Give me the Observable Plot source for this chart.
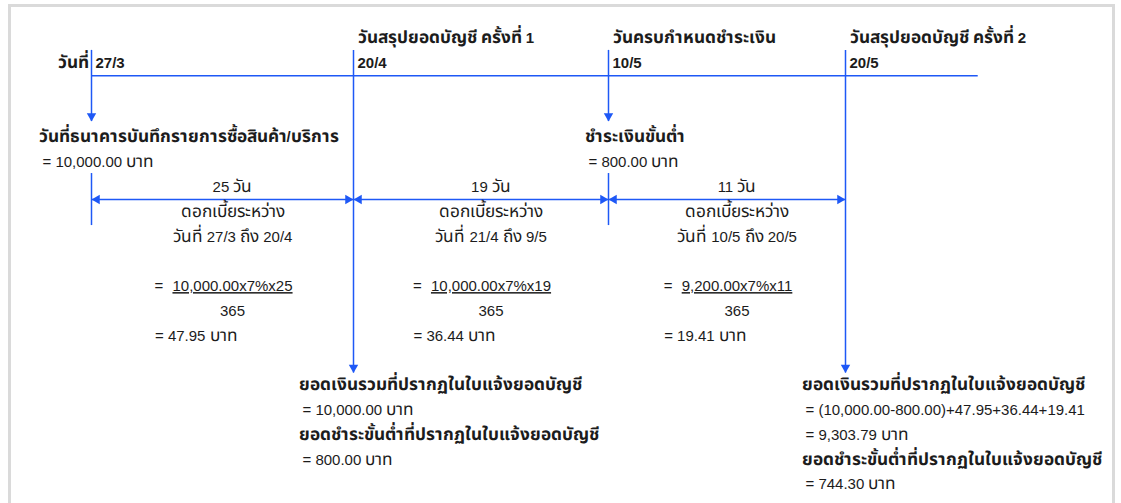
<!DOCTYPE html>
<html><head><meta charset="utf-8">
<script src="https://cdn.jsdelivr.net/npm/d3@7"></script>
<script src="https://cdn.jsdelivr.net/npm/@observablehq/plot@0.6"></script>
<style>
@font-face { font-family: "ThaiAdj"; font-weight: 400; size-adjust: 115%;
  src: local("Noto Sans Thai"), local("NotoSansThai-Regular"), local("Noto Sans Thai Regular");
  unicode-range: U+0E00-0E7F; }
@font-face { font-family: "ThaiAdj"; font-weight: 700; size-adjust: 115%;
  src: local("Noto Sans Thai Bold"), local("NotoSansThai-Bold"), local("Noto Sans Thai");
  unicode-range: U+0E00-0E7F; }
html,body{margin:0;padding:0;background:#fff;}
#wrap{position:relative;width:1121px;height:503px;overflow:hidden;}
#frame{position:absolute;left:8px;top:4px;width:1107px;height:600px;border:3px solid #dadada;box-sizing:border-box;}
#chart{position:absolute;left:0;top:0;}
</style></head><body><div id="wrap"><div id="frame"></div><div id="chart"></div></div>
<script>
// ---- data ----
const dates = ["27/3", "20/4", "10/5", "20/5"];
const dateTitles = ["", "วันสรุปยอดบัญชี ครั้งที่ 1", "วันครบกำหนดชำระเงิน", "วันสรุปยอดบัญชี ครั้งที่ 2"];
const dateKinds = ["purchase", "statement", "due", "statement"];
const dateLabel = "วันที่";
const eventLabels = ["วันที่ธนาคารบันทึกรายการซื้อสินค้า/บริการ", "", "ชำระเงินขั้นต่ำ", ""];
const eventAmounts = ["10,000.00", "", "800.00", ""];
const periodDays = [25, 19, 11];
const periodFrom = ["27/3", "21/4", "10/5"];
const periodTo = ["20/4", "9/5", "20/5"];
const periodPrincipal = ["10,000.00", "10,000.00", "9,200.00"];
const annualRate = "7%";
const daysPerYear = 365;
const periodInterest = ["47.95", "36.44", "19.41"];
const interestLabel = "ดอกเบี้ยระหว่าง";
const totalLabel = "ยอดเงินรวมที่ปรากฏในใบแจ้งยอดบัญชี";
const minimumLabel = "ยอดชำระขั้นต่ำที่ปรากฏในใบแจ้งยอดบัญชี";
const statementFormula = ["", "(10,000.00-800.00)+47.95+36.44+19.41"];
const statementTotals = ["10,000.00", "9,303.79"];
const statementMinimums = ["800.00", "744.30"];
const currency = "บาท";

// ---- layout / style ----
const BLUE = "#1e58f6";
const INK = "#1c1c1c";
const FONT_SIZE = 15;
const FONT = "'Liberation Sans', 'ThaiAdj', 'Noto Sans Thai', sans-serif";
const ROW = {title: 0, date: 1, line: 1.5, event: 4, amount: 5, days: 6, span: 6.5, desc: 7, range: 8,
             formula: 10, denom: 11, result: 12, stmt: 14, top: 0.48, shortTip: 3.35, longTip: 13.5,
             tickTop: 5.45, tickBottom: 7.55};
const EVENT_DX = {purchase: [-53, -49], due: [-24, -20]};
const STMT_DX = [[-55, -51], [-44, -40]];
const CENTER_DX = 10;
const HEAD_R = 3.5, HEAD_OFF = 5.5;

const idx = d3.range(dates.length);
const events = idx.map(i => ({i, date: dates[i], title: dateTitles[i], kind: dateKinds[i],
  label: eventLabels[i], amount: eventAmounts[i]}));
const tipRow = e => e.kind === "statement" ? ROW.longTip : ROW.shortTip;

// measure formula widths so that "=" sits just left of each centred formula
const ctx = document.createElement("canvas").getContext("2d");
ctx.font = `${FONT_SIZE}px 'Liberation Sans'`;
const periods = d3.range(periodDays.length).map(k => {
  const formula = `${periodPrincipal[k]}x${annualRate}x${periodDays[k]}`;
  return {k, mid: k + 0.5, days: periodDays[k], from: periodFrom[k], to: periodTo[k],
    formula, halfW: ctx.measureText(formula).width / 2, interest: periodInterest[k]};
});

// left-anchored text lines
const lines = [];
events.filter(e => e.label).forEach(e => {
  lines.push({i: e.i, row: ROW.event, text: e.label, bold: true, dx: EVENT_DX[e.kind][0]});
  lines.push({i: e.i, row: ROW.amount, text: `= ${e.amount} ${currency}`, bold: false, dx: EVENT_DX[e.kind][1]});
});
events.filter(e => e.kind === "statement").forEach((e, s) => {
  const ls = [{t: totalLabel, bold: true}];
  if (statementFormula[s]) ls.push({t: "= " + statementFormula[s]});
  ls.push({t: `= ${statementTotals[s]} ${currency}`});
  ls.push({t: minimumLabel, bold: true});
  ls.push({t: `= ${statementMinimums[s]} ${currency}`});
  ls.forEach((l, j) => lines.push({i: e.i, row: ROW.stmt + j, text: l.t, bold: !!l.bold,
    dx: STMT_DX[s][l.bold ? 0 : 1]}));
});
const lineMarks = Array.from(d3.group(lines, d => d.dx, d => d.bold), ([dx, byBold]) =>
  Array.from(byBold, ([bold, data]) => Plot.text(data, {x: "i", y: "row", text: "text",
    textAnchor: "start", dx, fontWeight: bold ? "bold" : "normal"}))).flat();

const eqMarks = periods.map(p => [
  Plot.text([p], {x: "mid", y: ROW.formula, text: () => "=", dx: CENTER_DX - p.halfW - 13.5}),
  Plot.text([p], {x: "mid", y: ROW.result, text: d => `= ${d.interest} ${currency}`,
    textAnchor: "start", dx: CENTER_DX - p.halfW - 17.5})
]).flat();

const plot = Plot.plot({
  width: 1121, height: 503, margin: 0,
  x: {type: "linear", domain: idx, range: [91, 353, 608, 845], axis: null},
  y: {type: "linear", domain: [0, 18], range: [38, 484], axis: null},
  style: {background: "transparent", fontFamily: FONT, fontSize: `${FONT_SIZE}px`, color: INK, overflow: "visible"},
  marks: [
    // timeline
    Plot.ruleY([ROW.line], {x1: 0, x2: dates.length - 1 + 0.56, stroke: BLUE, strokeWidth: 1.5}),
    // vertical drops with arrowheads
    Plot.ruleX(events, {x: "i", y1: ROW.top, y2: tipRow, stroke: BLUE, strokeWidth: 1.5}),
    Plot.dot(events, {x: "i", y: tipRow, symbol: "triangle", r: HEAD_R, rotate: 180, fill: BLUE, dy: -HEAD_OFF}),
    Plot.ruleX(events.filter(e => e.kind !== "statement"), {x: "i", y1: ROW.tickTop, y2: ROW.tickBottom, stroke: BLUE, strokeWidth: 1.5}),
    // span arrows
    Plot.ruleY([ROW.span], {x1: 0, x2: dates.length - 1, stroke: BLUE, strokeWidth: 1.5}),
    Plot.dot(periods, {x: "k", y: ROW.span, symbol: "triangle", r: HEAD_R, rotate: -90, fill: BLUE, dx: HEAD_OFF}),
    Plot.dot(periods, {x: d => d.k + 1, y: ROW.span, symbol: "triangle", r: HEAD_R, rotate: 90, fill: BLUE, dx: -HEAD_OFF}),
    // top labels
    Plot.text(events.filter(e => e.title), {x: "i", y: ROW.title, text: "title", textAnchor: "start", dx: 4, fontWeight: "bold"}),
    Plot.text(events, {x: "i", y: ROW.date, text: "date", textAnchor: "start", dx: 4, fontWeight: "bold"}),
    Plot.text([dateLabel], {x: 0, y: ROW.date, text: d => d, textAnchor: "end", dx: -3, fontWeight: "bold"}),
    // event + statement texts
    ...lineMarks,
    // period texts
    Plot.text(periods, {x: "mid", y: ROW.days, text: d => `${d.days} วัน`, dx: CENTER_DX}),
    Plot.text(periods, {x: "mid", y: ROW.desc, text: () => interestLabel, dx: CENTER_DX}),
    Plot.text(periods, {x: "mid", y: ROW.range, text: d => `${dateLabel} ${d.from} ถึง ${d.to}`, dx: CENTER_DX}),
    Plot.text(periods, {x: "mid", y: ROW.formula, text: "formula", dx: CENTER_DX}),
    Plot.text(periods, {x: "mid", y: ROW.denom, text: () => String(daysPerYear), dx: CENTER_DX}),
    ...eqMarks
  ]
});
document.getElementById("chart").appendChild(plot);
// underline the interest formulas (numerators)
d3.select(plot).selectAll("text").filter(function () {
  return periods.some(p => this.textContent === p.formula);
}).style("text-decoration", "underline");
</script>
</body></html>
